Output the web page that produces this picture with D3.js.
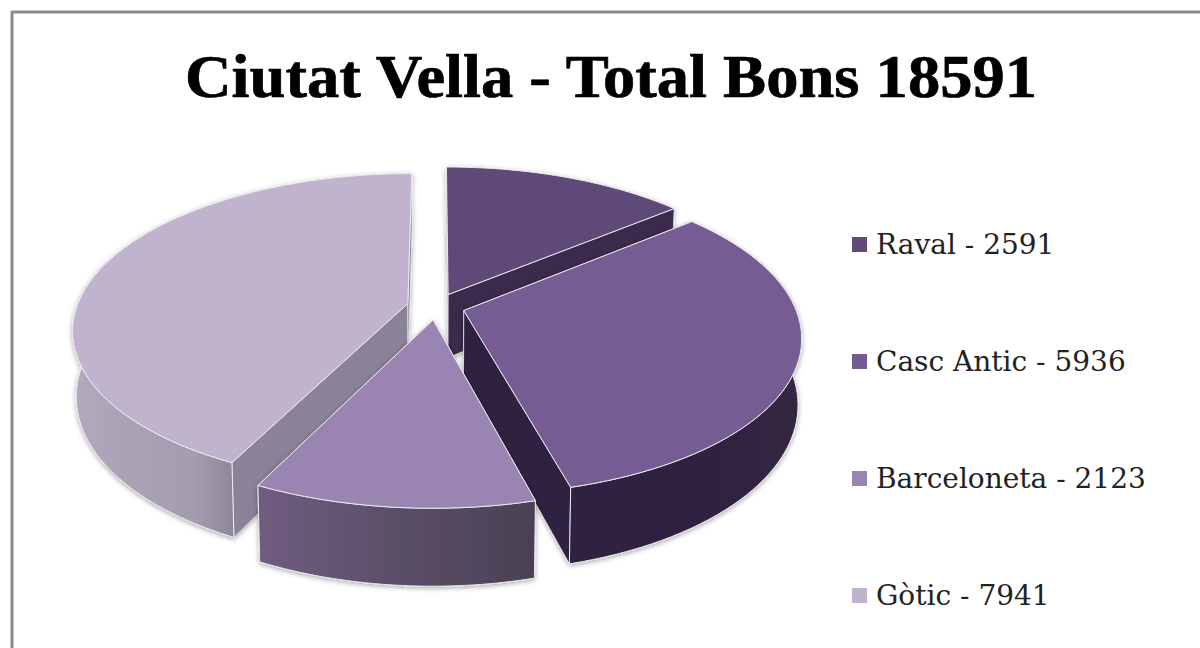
<!DOCTYPE html>
<html><head><meta charset="utf-8">
<script src="https://cdn.jsdelivr.net/npm/d3@7/dist/d3.min.js"></script>
<style>html,body{margin:0;padding:0;background:#fff;overflow:hidden}svg{display:block}</style>
</head><body><svg id="c" width="1200" height="648"></svg>
<script>
const names = ["Raval","Casc Antic","Barceloneta","Gòtic"];
const values = [2591,5936,2123,7941];
const total = 18591;
const titleText = "Ciutat Vella - Total Bons " + total;
const topColors = ["#5f4a78","#755b93","#9a84b1","#bfb3ce"];
const sideColors = ["#3a2b4b","#2e2440","#4a4054","#8a8296"];
const wallStops = [
  [["0","#33263f"],["1","#33263f"]],
  [["0","#2e2440"],["0.6","#2f2340"],["1","#33263f"]],
  [["0","#705c80"],["0.5","#5a4f68"],["1","#4a4054"]],
  [["0","#b3abbd"],["0.35","#aaa2b4"],["0.75","#a59cb0"],["1","#8f8799"]]
];
const paintOrder = [0,3,1,2];

const svg = d3.select("#c");
const cx=436, cy=306.5, R=331, q=0.46, k=0.165, depth=64, explode=29;
const project=(X,Y,h)=>{const s=1/(1-k*Y/R);return [cx+X*s*(1-0.01*h),cy+Y*q*s+depth*h*s];};
const rad=d3.pie().sort(null).startAngle(0).endAngle(2*Math.PI)(values);
const line=d3.line();

const defs=svg.append("defs");
const f=defs.append("filter").attr("id","sh").attr("x","-10%").attr("y","-10%").attr("width","120%").attr("height","125%");
f.append("feDropShadow").attr("dx",0).attr("dy",1.5).attr("stdDeviation",2.5).attr("flood-color","#000").attr("flood-opacity",0.35);

svg.append("line").attr("x1",12).attr("y1",12).attr("x2",1200).attr("y2",12).attr("stroke","#8a8a8a").attr("stroke-width",3);
svg.append("line").attr("x1",12).attr("y1",11).attr("x2",12).attr("y2",648).attr("stroke","#8a8a8a").attr("stroke-width",3);

svg.append("text").text(titleText).attr("x",185).attr("y",97)
  .attr("textLength",852).attr("lengthAdjust","spacingAndGlyphs")
  .attr("font-family","'Liberation Serif',serif").attr("font-weight",700).attr("font-size",62)
  .attr("fill","#000").attr("stroke","#000").attr("stroke-width",0.7);

const rim="#eceaf0";
paintOrder.forEach(i=>{
  const d=rad[i], m=(d.startAngle+d.endAngle)/2;
  const ox=explode*Math.sin(m), oy=-explode*Math.cos(m);
  const pt=(a,r,h)=>project(ox+r*Math.sin(a),oy-r*Math.cos(a),h);
  const arc=d3.range(0,61).map(j=>d.startAngle+(d.endAngle-d.startAngle)*j/60);
  const front=arc.filter(a=>Math.cos(a)<0.3);
  const g=svg.append("g").attr("filter","url(#sh)");
  [d.startAngle,d.endAngle].forEach(a=>{
    g.append("path").attr("d",line([pt(0,0,0),pt(a,R,0),pt(a,R,1),pt(0,0,1)])+"Z")
      .attr("fill",sideColors[i]).attr("stroke",rim).attr("stroke-width",0.8);
  });
  if(front.length>1){
    const top=front.map(a=>pt(a,R,0)), bot=front.map(a=>pt(a,R,1)).reverse();
    const xs=top.concat(bot).map(p=>p[0]);
    const gid="w"+i;
    const lg=defs.append("linearGradient").attr("id",gid).attr("gradientUnits","userSpaceOnUse")
      .attr("x1",d3.min(xs)).attr("x2",d3.max(xs)).attr("y1",0).attr("y2",0);
    wallStops[i].forEach(s=>lg.append("stop").attr("offset",s[0]).attr("stop-color",s[1]));
    g.append("path").attr("d",line(top.concat(bot))+"Z").attr("fill",`url(#${gid})`)
      .attr("stroke",rim).attr("stroke-width",1);
  }
  g.append("path").attr("d",line([pt(0,0,0)].concat(arc.map(a=>pt(a,R,0))))+"Z")
    .attr("fill",topColors[i]).attr("stroke",rim).attr("stroke-width",1);
});

const legendY=d3.scalePoint().domain(names).range([244,595]);
const lg=svg.append("g");
names.forEach((n,i)=>{
  const y=legendY(n);
  lg.append("rect").attr("x",852).attr("y",y-7).attr("width",15).attr("height",15).attr("fill",topColors[i]);
  lg.append("text").text(`${n} - ${values[i]}`).attr("x",876).attr("y",y+10)
    .attr("font-family","'DejaVu Serif',serif").attr("font-size",28).attr("fill","#222");
});
</script></body></html>
